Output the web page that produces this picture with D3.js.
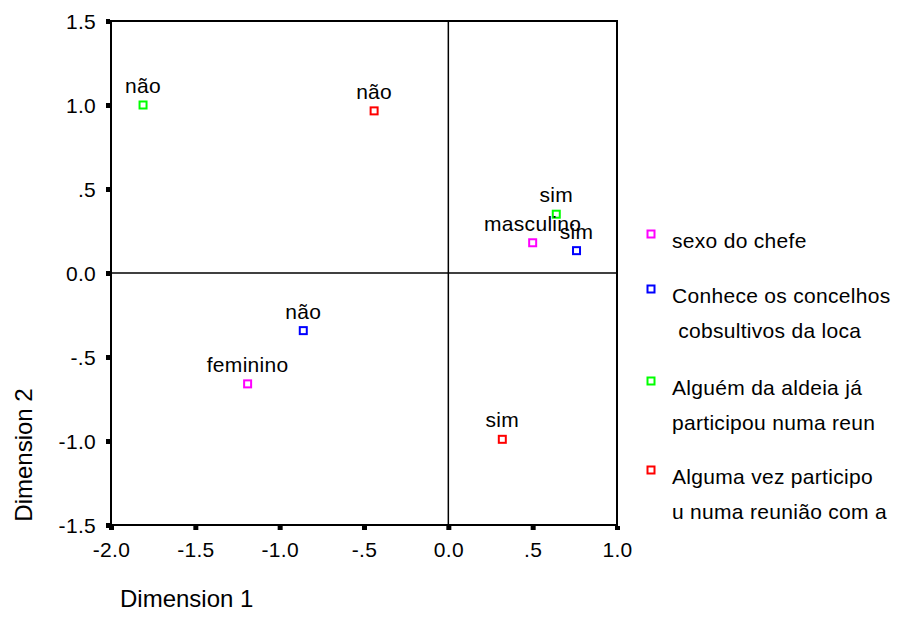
<!DOCTYPE html>
<html>
<head>
<meta charset="utf-8">
<script src="https://cdn.jsdelivr.net/npm/d3@7"></script>
<style>
  body { margin: 0; background: #fff; }
  svg { font-family: "Liberation Sans", Arial, sans-serif; }
  text { white-space: pre; }
</style>
</head>
<body>
<div id="plot"></div>
<script>
// variables (legend order) and their colours
const variables = ['sexo do chefe', 'Conhece os concelhos', 'Alguém da aldeia já', 'Alguma vez participo'];
const legendLines = [
  ['sexo do chefe'],
  ['Conhece os concelhos', ' cobsultivos da loca'],
  ['Alguém da aldeia já', 'participou numa reun'],
  ['Alguma vez participo', 'u numa reunião com a']
];
const varColors = ['#ff00ff', '#0000ff', '#00ff00', '#ff0000'];

// category points: label, variable index, dimension 1, dimension 2
const pointLabels = ['não', 'não', 'sim', 'masculino', 'sim', 'não', 'feminino', 'sim'];
const pointVar    = [2, 3, 2, 0, 1, 1, 0, 3];
const dim1        = [-1.81, -0.44, 0.64, 0.50, 0.76, -0.86, -1.19, 0.32];
const dim2        = [1.00, 0.965, 0.35, 0.18, 0.133, -0.343, -0.66, -0.99];

const xTicks = [-2.0, -1.5, -1.0, -0.5, 0.0, 0.5, 1.0];
const yTicks = [-1.5, -1.0, -0.5, 0.0, 0.5, 1.0, 1.5];

const width = 897, height = 631;
const plot = { left: 111, right: 617, top: 21, bottom: 525 };
const fontSize = '21px';
const spacing = '0.3px';

const x = d3.scaleLinear().domain([-2, 1]).range([plot.left, plot.right]);
const y = d3.scaleLinear().domain([-1.5, 1.5]).range([plot.bottom, plot.top]);

function fmt(d) {
  if (d === 0) return '0.0';
  let s = d.toFixed(1);
  if (Math.abs(d) < 1) s = s.replace('0.', '.');
  return s;
}

const svg = d3.select('#plot').append('svg')
  .attr('width', width)
  .attr('height', height);

// axes with block tick marks
const xAxis = svg.append('g')
  .attr('transform', `translate(0,${plot.bottom + 1})`)
  .call(d3.axisBottom(x).tickValues(xTicks).tickFormat(fmt).tickSize(4).tickPadding(12));
const yAxis = svg.append('g')
  .attr('transform', `translate(${plot.left - 1},0)`)
  .call(d3.axisLeft(y).tickValues(yTicks).tickFormat(fmt).tickSize(4).tickPadding(10));

[xAxis, yAxis].forEach(g => {
  g.select('.domain').remove();
  g.selectAll('.tick line').attr('stroke', '#000').attr('stroke-width', 5);
  g.selectAll('.tick text')
    .attr('fill', '#000')
    .style('font-size', fontSize)
    .style('letter-spacing', spacing)
    .style('font-family', '"Liberation Sans", Arial, sans-serif');
});
yAxis.selectAll('.tick text').attr('dy', '0.35em');

// frame
svg.append('rect')
  .attr('x', plot.left).attr('y', plot.top)
  .attr('width', plot.right - plot.left).attr('height', plot.bottom - plot.top)
  .attr('fill', 'none').attr('stroke', '#000').attr('stroke-width', 2);

// reference lines through origin
svg.append('line')
  .attr('x1', x(0)).attr('x2', x(0)).attr('y1', plot.top).attr('y2', plot.bottom)
  .attr('stroke', '#000').attr('stroke-width', 1.5);
svg.append('line')
  .attr('x1', plot.left).attr('x2', plot.right).attr('y1', y(0)).attr('y2', y(0))
  .attr('stroke', '#000').attr('stroke-width', 1.5);

// points
const pts = pointLabels.map((label, i) => ({ label, v: pointVar[i], d1: dim1[i], d2: dim2[i] }));
const sq = 7;

svg.append('g').selectAll('rect')
  .data(pts)
  .enter().append('rect')
  .attr('x', d => x(d.d1) - sq / 2)
  .attr('y', d => y(d.d2) - sq / 2)
  .attr('width', sq).attr('height', sq)
  .attr('fill', 'none')
  .attr('stroke', d => varColors[d.v])
  .attr('stroke-width', 2);

svg.append('g').selectAll('text')
  .data(pts)
  .enter().append('text')
  .attr('x', d => x(d.d1))
  .attr('y', d => y(d.d2) - 12)
  .attr('text-anchor', 'middle')
  .style('font-size', fontSize)
  .style('letter-spacing', spacing)
  .text(d => d.label);

// legend
const legend = svg.append('g');
const legendY = [248, 303, 395, 484];
legendLines.forEach((lines, i) => {
  legend.append('rect')
    .attr('x', 651 - sq / 2).attr('y', legendY[i] - 14 - sq / 2)
    .attr('width', sq).attr('height', sq)
    .attr('fill', 'none').attr('stroke', varColors[i]).attr('stroke-width', 2);
  lines.forEach((line, j) => {
    legend.append('text')
      .attr('x', 672)
      .attr('y', legendY[i] + j * 34.5)
      .style('font-size', fontSize)
      .style('letter-spacing', spacing)
      .text(line);
  });
});

// axis titles
svg.append('text')
  .attr('x', 120).attr('y', 607)
  .style('font-size', '24px')
  .text('Dimension 1');
svg.append('text')
  .attr('transform', 'translate(32,455) rotate(-90)')
  .attr('text-anchor', 'middle')
  .style('font-size', '24px')
  .text('Dimension 2');
</script>
</body>
</html>
